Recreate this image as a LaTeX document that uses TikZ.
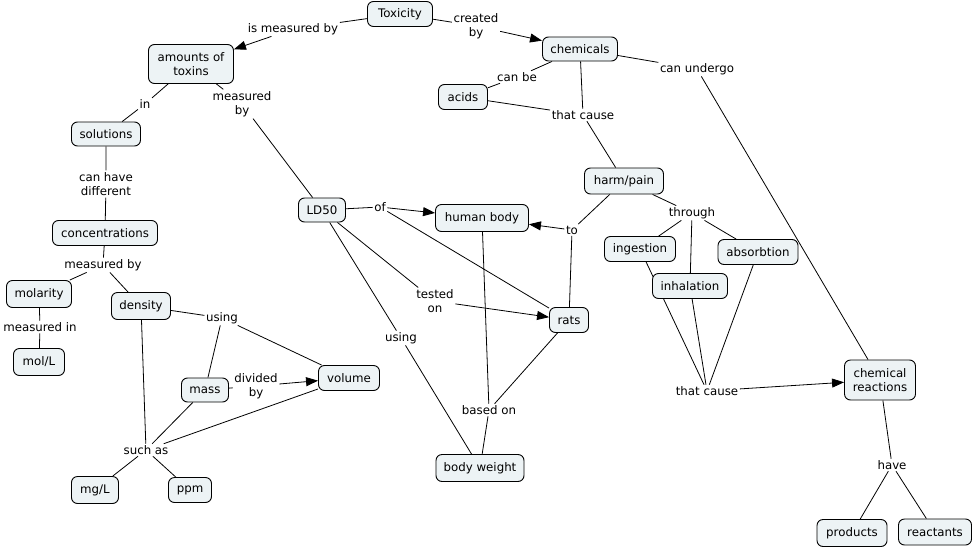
\documentclass[tikz,border=0pt]{standalone}
\usepackage{fontspec}
\setmainfont{DejaVu Sans}
\usetikzlibrary{arrows.meta,backgrounds}
\definecolor{cfill}{RGB}{237,243,245}
\tikzset{
 concept/.style={draw=black, fill=cfill, rounded corners=6pt, line width=0.9pt, align=center, inner sep=0pt, font=\fontsize{11.8}{14.5}\selectfont},
 lphrase/.style={inner sep=1.5pt, align=center, font=\fontsize{11.8}{14.5}\selectfont},
 conn/.style={line width=0.8pt, draw=black},
 arr/.style={conn, -{Triangle[length=12pt,width=9pt]}},
}
\begin{document}
\begin{tikzpicture}[x=1pt,y=-1pt]
\useasboundingbox (0,0) rectangle (974,549);
% concepts
\node[concept, minimum width=65, minimum height=25] (tox) at (400,14) {Toxicity};
\node[concept, minimum width=75, minimum height=24] (chem) at (580,49) {chemicals};
\node[concept, minimum width=85, minimum height=39] (amt) at (191,64) {amounts of\\toxins};
\node[concept, minimum width=49, minimum height=25] (acids) at (463,97) {acids};
\node[concept, minimum width=69, minimum height=24] (sol) at (106,134) {solutions};
\node[concept, minimum width=79, minimum height=26] (harm) at (624,181) {harm/pain};
\node[concept, minimum width=47, minimum height=24] (ld) at (322,210) {LD50};
\node[concept, minimum width=93, minimum height=27] (hb) at (482,218) {human body};
\node[concept, minimum width=105, minimum height=25] (conc) at (105,233) {concentrations};
\node[concept, minimum width=71, minimum height=25] (ing) at (640,249) {ingestion};
\node[concept, minimum width=80, minimum height=25] (abs) at (758,252) {absorbtion};
\node[concept, minimum width=75, minimum height=25] (inh) at (690,286) {inhalation};
\node[concept, minimum width=65, minimum height=27] (mol) at (39,294) {molarity};
\node[concept, minimum width=59, minimum height=27] (dens) at (141,306) {density};
\node[concept, minimum width=39, minimum height=25] (rats) at (569,320) {rats};
\node[concept, minimum width=51, minimum height=27] (moll) at (39,362) {mol/L};
\node[concept, minimum width=61, minimum height=25] (vol) at (349,378) {volume};
\node[concept, minimum width=47, minimum height=24] (mass) at (205,390) {mass};
\node[concept, minimum width=71, minimum height=40] (cr) at (880,380) {chemical\\reactions};
\node[concept, minimum width=88, minimum height=27] (bw) at (480,468) {body weight};
\node[concept, minimum width=47, minimum height=27] (mgl) at (95,490) {mg/L};
\node[concept, minimum width=43, minimum height=25] (ppm) at (190,490) {ppm};
\node[concept, minimum width=70, minimum height=27] (prod) at (852,533) {products};
\node[concept, minimum width=73, minimum height=26] (reac) at (935,532) {reactants};
% linking phrases
\node[lphrase] (l1) at (293,29) {is measured by};
\node[lphrase] (l2) at (476,26) {created\\by};
\node[lphrase] (l3) at (517,77) {can be};
\node[lphrase] (l4) at (697,69) {can undergo};
\node[lphrase] (l5) at (583,115) {that cause};
\node[lphrase] (l6) at (145,104) {in};
\node[lphrase] (l7) at (242,104) {measured\\by};
\node[lphrase] (l8) at (106,184) {can have\\different};
\node[lphrase] (l9) at (380,207) {of};
\node[lphrase] (l10) at (572,230) {to};
\node[lphrase] (l11) at (692,213) {through};
\node[lphrase] (l12) at (103,265) {measured by};
\node[lphrase] (l13) at (40,327) {measured in};
\node[lphrase] (l14) at (222,318) {using};
\node[lphrase] (l15) at (435,301) {tested\\on};
\node[lphrase] (l16) at (401,338) {using};
\node[lphrase] (l17) at (256,386) {divided\\by};
\node[lphrase] (l18) at (707,391) {that cause};
\node[lphrase] (l19) at (489,410) {based on};
\node[lphrase] (l20) at (146,450) {such as};
\node[lphrase] (l21) at (892,465) {have};
% connectors
\begin{pgfonlayer}{background}
\draw[conn] (tox) -- (l1); \draw[arr] (l1) -- (amt);
\draw[conn] (tox) -- (l2); \draw[arr] (l2) -- (chem);
\draw[conn] (chem) -- (l3) -- (acids);
\draw[conn] (chem) -- (l4) -- (cr);
\draw[conn] (chem) -- (l5); \draw[conn] (acids) -- (l5); \draw[conn] (l5) -- (harm);
\draw[conn] (amt) -- (l6) -- (sol);
\draw[conn] (amt) -- (l7) -- (ld);
\draw[conn] (sol) -- (l8) -- (conc);
\draw[conn] (ld) -- (l9); \draw[arr] (l9) -- (hb); \draw[conn] (l9) -- (rats);
\draw[conn] (harm) -- (l10); \draw[conn] (rats) -- (l10); \draw[arr] (l10) -- (hb);
\draw[conn] (harm) -- (l11);
\draw[conn] (l11) -- (ing); \draw[conn] (l11) -- (inh); \draw[conn] (l11) -- (abs);
\draw[conn] (conc) -- (l12); \draw[conn] (l12) -- (mol); \draw[conn] (l12) -- (dens);
\draw[conn] (mol) -- (l13) -- (moll);
\draw[conn] (dens) -- (l14); \draw[conn] (l14) -- (mass); \draw[conn] (l14) -- (vol);
\draw[conn] (ld) -- (l15); \draw[arr] (l15) -- (rats);
\draw[conn] (ld) -- (l16) -- (bw);
\draw[conn] (mass) -- (l17); \draw[arr] (l17) -- (vol);
\draw[conn] (ing) -- (l18); \draw[conn] (inh) -- (l18); \draw[conn] (abs) -- (l18);
\draw[arr] (l18) -- (cr);
\draw[conn] (hb) -- (l19); \draw[conn] (rats) -- (l19); \draw[conn] (l19) -- (bw);
\draw[conn] (dens) -- (l20); \draw[conn] (mass) -- (l20); \draw[conn] (vol) -- (l20);
\draw[conn] (l20) -- (mgl); \draw[conn] (l20) -- (ppm);
\draw[conn] (cr) -- (l21); \draw[conn] (l21) -- (prod); \draw[conn] (l21) -- (reac);
\end{pgfonlayer}
\end{tikzpicture}
\end{document}
